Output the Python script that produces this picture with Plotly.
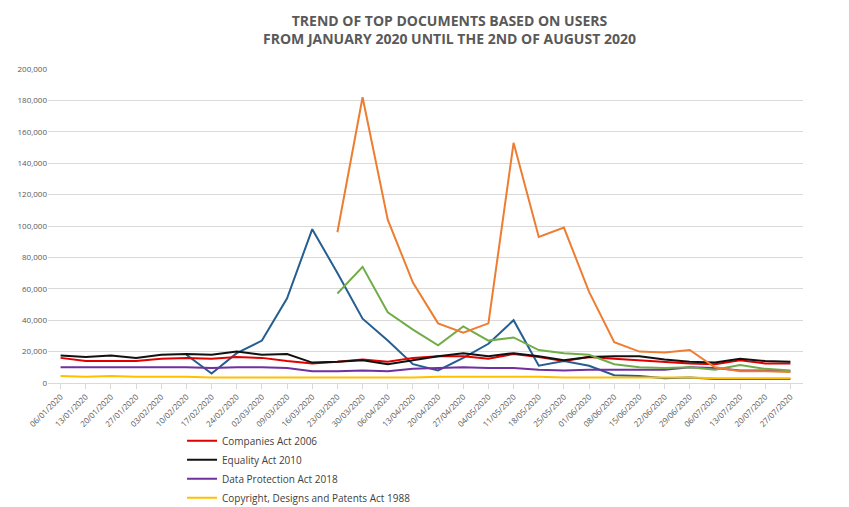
import plotly.graph_objects as go

dates = ["06/01/2020","13/01/2020","20/01/2020","27/01/2020","03/02/2020","10/02/2020","17/02/2020","24/02/2020",
         "02/03/2020","09/03/2020","16/03/2020","23/03/2020","30/03/2020","06/04/2020","13/04/2020","20/04/2020",
         "27/04/2020","04/05/2020","11/05/2020","18/05/2020","25/05/2020","01/06/2020","08/06/2020","15/06/2020",
         "22/06/2020","29/06/2020","06/07/2020","13/07/2020","20/07/2020","27/07/2020"]
N = None
companies = [16000,14000,14000,14000,15500,16000,15500,16500,16000,14000,12500,13500,15000,13500,16000,17000,17000,15500,18500,16500,14000,16500,15500,14500,13500,12500,12000,14500,12500,12500]
equality = [17500,16500,17500,16000,18000,18500,18000,20000,18000,18500,13000,13500,14500,12000,14500,17000,19000,17000,19000,17000,14500,16500,17000,17000,15000,13500,13000,15500,14000,13500]
data_prot = [10000,10000,10000,10000,10000,10000,9500,10000,10000,9500,7500,7500,8000,7500,9000,9500,10000,9500,9500,8500,8000,8500,8500,8500,8500,10000,9500,8000,8000,7500]
copyright_ = [4500,4000,4500,4000,4000,4000,3500,3500,3500,3500,3500,3500,3500,3500,3500,4000,4000,4000,4000,4000,3500,3500,3500,3500,3500,3500,3000,3000,3000,3000]
coronavirus = [N]*11 + [57000,74000,45000,34000,24000,36000,27000,29000,21000,19000,18000,12000,10000,9500,10000,8500,11500,9000,8000]
health_reg = [N]*11 + [96000,182000,104000,64000,38000,32000,38000,153000,93000,99000,58000,26000,20000,19500,21000,10000,7500,7500,7000]
blue = [N]*5 + [18000,6000,19000,27000,54000,98000,70000,41000,27000,12000,8000,16000,25000,40000,11000,14000,11000,5000,4500,3000,3500,2500,2500,2500,2500]

fig = go.Figure()
fig.add_trace(go.Scatter(x=dates, y=blue, mode="lines", line=dict(color="#255e91", width=2), showlegend=False, name="Other"))
series = [("Companies Act 2006", companies, "#e00000"),
          ("Equality Act 2010", equality, "#111111"),
          ("Data Protection Act 2018", data_prot, "#7030a0"),
          ("Copyright, Designs and Patents Act 1988", copyright_, "#ffc000"),
          ("Coronavirus Act 2020", coronavirus, "#70ad47"),
          ("The Health Protection (Coronavirus, Restrictions) (England) Regulations 2020", health_reg, "#ed7d31")]
for name, y, c in series:
    fig.add_trace(go.Scatter(x=dates, y=y, mode="lines", name=name, line=dict(color=c, width=2)))

fig.update_layout(
    width=849, height=507, paper_bgcolor="white", plot_bgcolor="white",
    margin=dict(l=40, r=54, t=61, b=132, autoexpand=False),
    font=dict(family="Open Sans", size=11, color="#595959"),
    title=dict(text="<b>TREND OF TOP DOCUMENTS BASED ON USERS<br>FROM JANUARY 2020 UNTIL THE 2ND OF AUGUST 2020</b>",
               x=0.52, xanchor="center", y=0.965, yanchor="top", font=dict(size=14, color="#595959")),
    legend=dict(yref="container", xref="container", x=0.205, y=0.175, xanchor="left", yanchor="top",
                font=dict(size=10, color="#404040"), bgcolor="rgba(0,0,0,0)", tracegroupgap=0),
    xaxis=dict(type="category", tickangle=-45, tickfont=dict(size=8), showgrid=False,
               showline=True, linecolor="#d9d9d9", ticks="outside", tickcolor="#d9d9d9", range=[-0.5, 29.5]),
    yaxis=dict(range=[0, 200000], dtick=20000, tickformat=",", tickfont=dict(size=8),
               gridcolor="#d9d9d9", zeroline=False),
)
fig.write_html("out.html")
